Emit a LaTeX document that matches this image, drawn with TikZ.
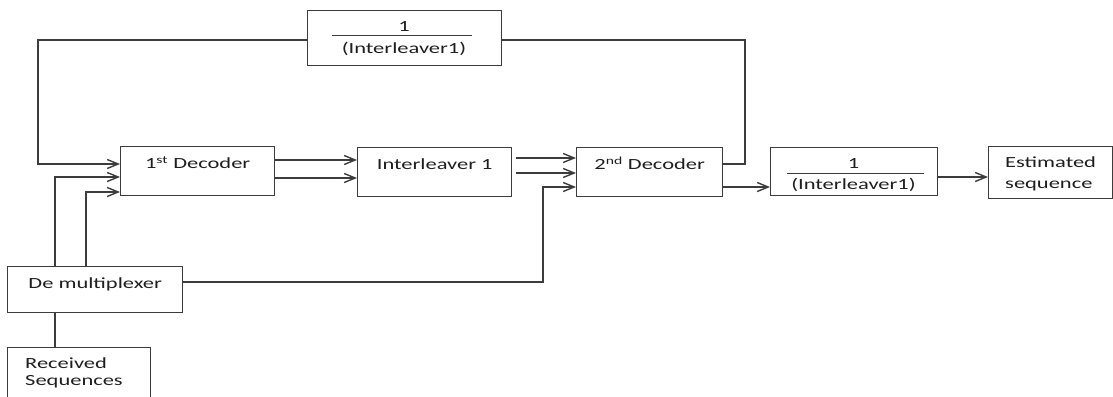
\documentclass[tikz,border=0pt]{standalone}
\usepackage{fontspec}
\setmainfont[FakeStretch=1.45]{Carlito}
\usetikzlibrary{arrows.meta,calc}
\definecolor{ln}{HTML}{3C3C3C}
\definecolor{tx}{HTML}{1E1E1E}
\begin{document}
\begin{tikzpicture}[x=1pt,y=-1pt,
  font=\fontsize{15.5}{18}\selectfont,
  box/.style={draw=ln,line width=1.4pt,inner xsep=0pt,inner ysep=0pt,text=tx},
  toptext/.style={text height=22pt,text depth=#1},
  lbl/.style={inner sep=0pt,text=tx},
  conn/.style={draw=ln,line width=1.6pt},
  arr/.style={conn,-{Straight Barb[length=11pt,width=9pt,line width=1.4pt]}}]
\clip (0,0) rectangle (1113,396);
% boxes
\node[box,anchor=north west,minimum width=194pt,minimum height=55pt] (top) at (307,10) {};
\node[lbl,anchor=base] (topn) at (404,32) {1};
\node[lbl,anchor=base] (topd) at (404,53) {(Interleaver1)};
\draw[ln,line width=1pt] (332,36) -- (472,36);

\node[box,anchor=north west,minimum width=154pt,toptext=27pt] (dec1) at (120,146) {1\textsuperscript{st} Decoder};
\node[box,anchor=north west,minimum width=154pt,toptext=27pt] (il) at (357,147) {Interleaver 1};
\node[box,anchor=north west,minimum width=146pt,toptext=27pt] (dec2) at (576,147) {2\textsuperscript{nd} Decoder};

\node[box,anchor=north west,minimum width=167pt,minimum height=48pt] (inv) at (770,147) {};
\node[lbl,anchor=base] (invn) at (853.5,168) {1};
\node[lbl,anchor=base] (invd) at (853.5,189) {(Interleaver1)};
\draw[ln,line width=1pt] (787,173) -- (924,173);

\node[box,anchor=north west,minimum width=124pt,minimum height=52pt] (est) at (988,146) {};
\node[lbl,anchor=base west] (est1) at (1005,167) {Estimated};
\node[lbl,anchor=base west] (est2) at (1005,188) {sequence};

\node[box,anchor=north west,minimum width=175pt,toptext=24pt] (dm) at (7,266) {De multiplexer};

\node[box,anchor=north west,minimum width=143pt,minimum height=60pt] (rx) at (7,347) {};
\node[lbl,anchor=base west] (rx1) at (25,368) {Received};
\node[lbl,anchor=base west] (rx2) at (25,385) {Sequences};

% feedback loop
\draw[arr] (top.west |- 0,40) -| (38,164) -- (dec1.west |- 0,164);
\draw[conn] (dec2.east |- 0,164) -| (745,40) -- (top.east |- 0,40);

% demux to decoder 1
\draw[arr] (dm.north -| 55,0) |- (dec1.west |- 0,177);
\draw[arr] (dm.north -| 86,0) |- (dec1.west |- 0,192);

% decoder 1 to interleaver
\draw[arr] (dec1.east |- 0,160) -- (il.west |- 0,160);
\draw[arr] (dec1.east |- 0,178) -- (il.west |- 0,178);

% interleaver to decoder 2
\draw[arr] ($(il.east |- 0,158)+(4,0)$) -- (dec2.west |- 0,158);
\draw[arr] ($(il.east |- 0,173)+(4,0)$) -- (dec2.west |- 0,173);

% demux to decoder 2
\draw[arr] (dm.east |- 0,282) -| (543,187) -- (dec2.west |- 0,187);

% decoder 2 to deinterleaver, to estimate
\draw[arr] (dec2.east |- 0,187) -- (inv.west |- 0,187);
\draw[arr] (inv.east |- 0,177) -- (est.west |- 0,177);

% demux to received
\draw[conn] (dm.south -| 55,0) -- (rx.north -| 55,0);
\end{tikzpicture}
\end{document}
